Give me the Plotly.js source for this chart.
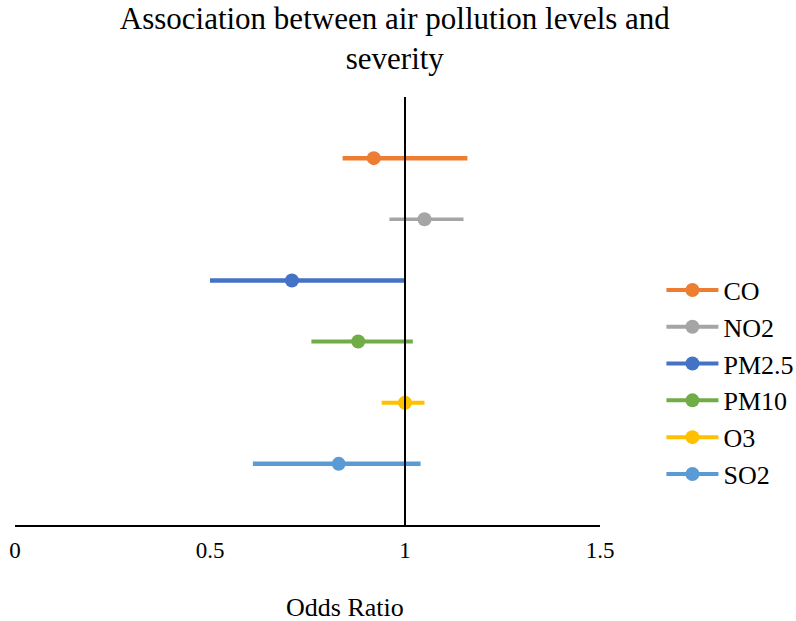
<!DOCTYPE html>
<html>
<head>
<meta charset="utf-8">
<script src="https://cdn.plot.ly/plotly-3.0.1.min.js"></script>
<style>html,body{margin:0;padding:0;background:#fff}#chart{width:796px;height:621px}</style>
</head>
<body>
<div id="chart"></div>
<script>
const pollutants = ["CO", "NO2", "PM2.5", "PM10", "O3", "SO2"];
const oddsRatio = [0.92, 1.05, 0.71, 0.88, 1.00, 0.83];
const ciLow =     [0.84, 0.96, 0.50, 0.76, 0.94, 0.61];
const ciHigh =    [1.16, 1.15, 1.00, 1.02, 1.05, 1.04];
const rowPos =    [6, 5, 4, 3, 2, 1];
const colors = ["#ED7D31", "#A5A5A5", "#4472C4", "#70AD47", "#FFC000", "#5B9BD5"];
const lineWidths = [4.5, 3.5, 4.5, 4, 4, 4.5];
const xTicks = [0, 0.5, 1, 1.5];

const traces = [];
pollutants.forEach((p, i) => {
  traces.push({
    type: "scatter", mode: "lines",
    x: [ciLow[i], ciHigh[i]], y: [rowPos[i], rowPos[i]],
    line: {color: colors[i], width: lineWidths[i]},
    showlegend: false, legendgroup: p, hoverinfo: "skip"
  });
  traces.push({
    type: "scatter", mode: "lines+markers", name: p,
    x: [oddsRatio[i]], y: [rowPos[i]],
    line: {color: colors[i], width: 4},
    marker: {color: colors[i], size: 14},
    legendgroup: p
  });
});

const font = "'Liberation Serif', 'Times New Roman', serif";
const layout = {
  width: 796, height: 621,
  paper_bgcolor: "#fff", plot_bgcolor: "#fff",
  margin: {l: 15, r: 196, t: 97, b: 96, autoexpand: false},
  title: {text: "Association between air pollution levels and<br>severity",
          font: {family: font, size: 31, color: "#000"}, x: 0.496, xref: "container", y: 0.953, yanchor: "middle"},
  xaxis: {range: [0, 1.5], tickvals: xTicks, ticktext: xTicks.map(String),
          showgrid: false, zeroline: false, showline: true, linecolor: "#000", linewidth: 2,
          ticks: "", ticklabelstandoff: 3, tickfont: {family: font, size: 23, color: "#000"},
          fixedrange: true},
  yaxis: {range: [0, 7], showgrid: false, zeroline: false, showticklabels: false, ticks: "",
          showline: true, linecolor: "#000", linewidth: 2, anchor: "free", position: 0.6667,
          fixedrange: true},
  legend: {x: 1.105, xanchor: "left", y: 0.334, yanchor: "middle", traceorder: "grouped",
           tracegroupgap: 0, itemwidth: 52, font: {family: font, size: 26, color: "#000"}},
  annotations: [{text: "Odds Ratio", xref: "paper", yref: "paper", x: 0.564, y: -0.192,
                 xanchor: "center", yanchor: "middle", showarrow: false,
                 font: {family: font, size: 26, color: "#000"}}]
};
Plotly.newPlot("chart", traces, layout, {displayModeBar: false, staticPlot: true});
</script>
</body>
</html>
